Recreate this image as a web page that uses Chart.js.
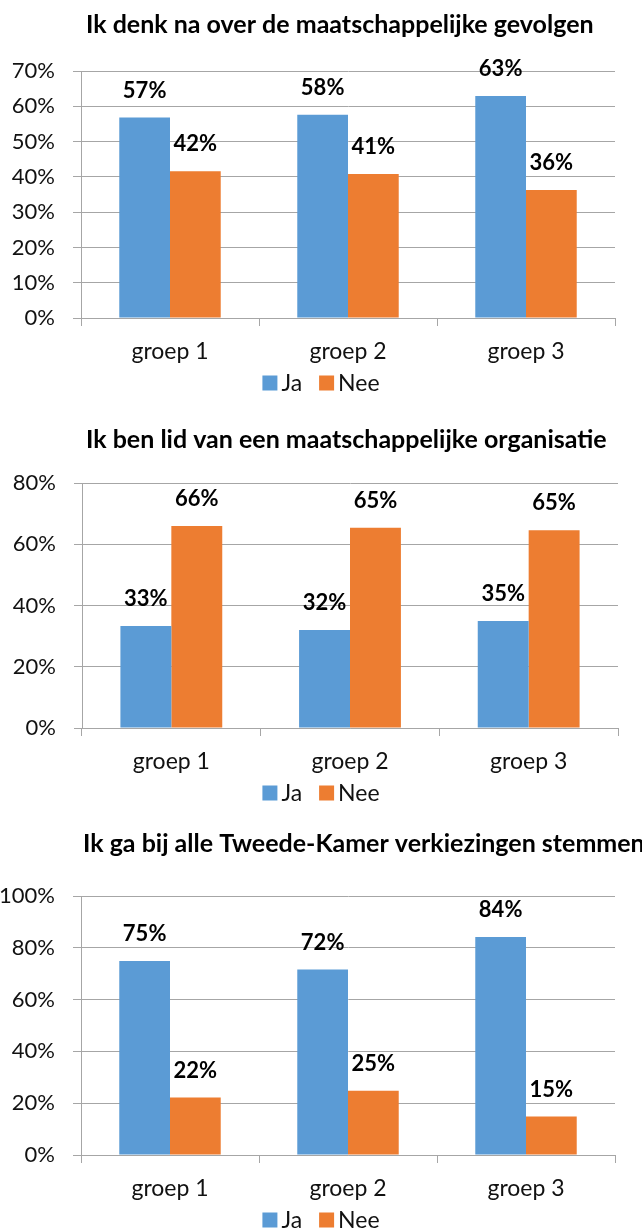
<!DOCTYPE html>
<html>
<head>
<meta charset="utf-8">
<script src="https://cdn.jsdelivr.net/npm/chart.js@4"></script>
<style>
  html, body { margin: 0; padding: 0; background: #fff; overflow: hidden; width: 642px; height: 1228px; }
  .box { position: absolute; left: 0; width: 642px; }
  canvas { display: block; }
</style>
</head>
<body>
<div class="box" style="top:0px"><canvas id="c1" width="642" height="410"></canvas></div>
<div class="box" style="top:410px"><canvas id="c2" width="642" height="410"></canvas></div>
<div class="box" style="top:820px"><canvas id="c3" width="642" height="440"></canvas></div>
<script>
// ---- data ----
const categories = ['groep 1', 'groep 2', 'groep 3'];
const seriesNames = ['Ja', 'Nee'];
const chartTitles = [
  'Ik denk na over de maatschappelijke gevolgen',
  'Ik ben lid van een maatschappelijke organisatie',
  'Ik ga bij alle Tweede-Kamer verkiezingen stemmen'
];
const chart1Ja = [56.8, 57.6, 62.9];
const chart1Nee = [41.6, 40.8, 36.3];
const chart2Ja = [33.3, 32.0, 34.9];
const chart2Nee = [66.0, 65.4, 64.6];
const chart3Ja = [74.9, 71.6, 84.2];
const chart3Nee = [22.2, 24.8, 14.9];
const axisMax = [70, 80, 100];
const axisStep = [10, 20, 20];

// ---- styling / layout ----
const BLUE = '#5B9BD5';
const ORANGE = '#ED7D31';
const GRID = '#a6a6a6';
const TEXT = '#111111';
const FONT = 'Lato, "Open Sans", sans-serif';

const layouts = [
  { H: 410, top: 71, bottom: 318, left: 81, right: 615, titleX: 86, titleBase: 33 },
  { H: 410, top: 73, bottom: 318, left: 82, right: 618, titleX: 86, titleBase: 38 },
  { H: 440, top: 76, bottom: 335, left: 81, right: 615, titleX: 83, titleBase: 32 }
];
const X_AXIS_H = 60;

const titlePlugin = {
  id: 'leftTitle',
  afterDraw(chart, args, opts) {
    const ctx = chart.ctx;
    ctx.save();
    ctx.font = 'bold 25px ' + FONT;
    ctx.fillStyle = '#000';
    ctx.textAlign = 'left';
    ctx.textBaseline = 'alphabetic';
    ctx.fillText(opts.text, opts.x, opts.y);
    ctx.restore();
  }
};

const legendPlugin = {
  id: 'bottomLegend',
  afterDraw(chart, args, opts) {
    const ctx = chart.ctx;
    const box = 15, gapText = 4, gapItem = 17;
    ctx.save();
    ctx.font = '23px ' + FONT;
    const items = chart.data.datasets.map(ds => ({ text: ds.label, color: ds.backgroundColor, w: ctx.measureText(ds.label).width }));
    let total = 0;
    items.forEach((it, i) => { total += box + gapText + it.w + (i < items.length - 1 ? gapItem : 0); });
    let x = chart.width / 2 - total / 2;
    const cy = chart.chartArea.bottom + opts.offset;
    items.forEach(it => {
      ctx.fillStyle = it.color;
      ctx.fillRect(x, cy - box / 2, box, box);
      x += box + gapText;
      ctx.fillStyle = TEXT;
      ctx.textAlign = 'left';
      ctx.textBaseline = 'alphabetic';
      ctx.fillText(it.text, x, cy + box / 2);
      x += it.w + gapItem;
    });
    ctx.restore();
  }
};

const valueLabelPlugin = {
  id: 'valueLabels',
  afterDatasetsDraw(chart) {
    const ctx = chart.ctx;
    ctx.save();
    ctx.font = 'bold 22px ' + FONT;
    ctx.fillStyle = '#000';
    ctx.textAlign = 'center';
    ctx.textBaseline = 'middle';
    chart.data.datasets.forEach((ds, di) => {
      const meta = chart.getDatasetMeta(di);
      meta.data.forEach((bar, i) => {
        ctx.fillText(Math.round(ds.data[i]) + '%', bar.x, bar.y - 27);
      });
    });
    ctx.restore();
  }
};

function makeChart(id, idx, ja, nee) {
  const L = layouts[idx];
  const padBottom = L.H - X_AXIS_H - L.bottom;
  return new Chart(document.getElementById(id), {
    type: 'bar',
    data: {
      labels: categories,
      datasets: [
        { label: seriesNames[0], data: ja, backgroundColor: BLUE, borderWidth: 0 },
        { label: seriesNames[1], data: nee, backgroundColor: ORANGE, borderWidth: 0 }
      ]
    },
    options: {
      responsive: false,
      animation: false,
      devicePixelRatio: 1,
      categoryPercentage: 0.57,
      barPercentage: 1,
      layout: { padding: { top: L.top, left: 0, right: 642 - L.right, bottom: padBottom } },
      scales: {
        x: {
          afterFit(s) { s.height = X_AXIS_H; },
          grid: { display: true, drawOnChartArea: false, drawTicks: true, tickLength: 8, color: GRID, lineWidth: 1, offset: true },
          border: { display: true, color: GRID, width: 1 },
          ticks: { color: TEXT, font: { family: FONT, size: 23 }, padding: 12 }
        },
        y: {
          min: 0, max: axisMax[idx],
          afterFit(s) { s.width = L.left; },
          grid: { color: GRID, lineWidth: 1, drawTicks: true, tickLength: 8, tickColor: GRID },
          border: { display: true, color: GRID, width: 1 },
          ticks: {
            stepSize: axisStep[idx], padding: 18, color: TEXT,
            font: { family: FONT, size: 22 },
            callback: v => v + '%'
          }
        }
      },
      plugins: {
        legend: { display: false },
        tooltip: { enabled: false },
        leftTitle: { text: chartTitles[idx], x: L.titleX, y: L.titleBase },
        bottomLegend: { offset: 65 }
      }
    },
    plugins: [titlePlugin, valueLabelPlugin, legendPlugin]
  });
}

makeChart('c1', 0, chart1Ja, chart1Nee);
makeChart('c2', 1, chart2Ja, chart2Nee);
makeChart('c3', 2, chart3Ja, chart3Nee);
</script>
</body>
</html>
